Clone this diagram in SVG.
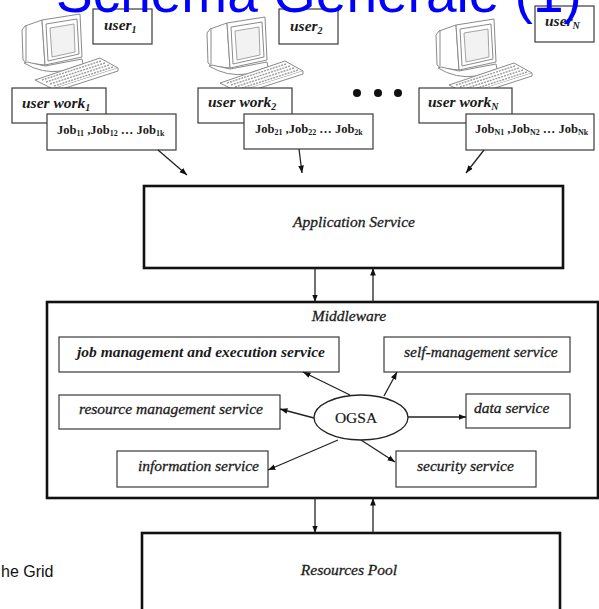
<svg xmlns="http://www.w3.org/2000/svg" xmlns:xlink="http://www.w3.org/1999/xlink" width="599" height="609" viewBox="0 0 599 609">
<style>
.box{fill:#fff;stroke:#3a3a3a;stroke-width:1.2}
.big{fill:#fff;stroke:#111;stroke-width:2.6}
.t{font-family:"Liberation Serif","Times New Roman",serif;font-style:italic;font-size:15.5px;fill:#1a1a1a;stroke:#1a1a1a;stroke-width:0.3}
.tb{font-family:"Liberation Serif","Times New Roman",serif;font-style:italic;font-weight:bold;font-size:15.5px;fill:#1a1a1a}
.job{font-family:"Liberation Serif","Times New Roman",serif;font-weight:bold;font-size:12.5px;fill:#1a1a1a}
.r{font-family:"Liberation Serif","Times New Roman",serif;font-size:15.5px;fill:#1a1a1a;stroke:#1a1a1a;stroke-width:0.2}
.c{fill:none;stroke:#222;stroke-width:1.3;marker-end:url(#ah)}
.pcl{fill:#fff;stroke:#8a8a8a;stroke-width:1}
.pcs{fill:#f2f2f2;stroke:#9a9a9a;stroke-width:0.9}
.key{fill:none;stroke:#9a9a9a;stroke-width:1.4;stroke-dasharray:2 1}
</style>
<defs>
<marker id="ah" viewBox="0 0 10 10" refX="10" refY="5" markerWidth="7.5" markerHeight="7.5" orient="auto" markerUnits="userSpaceOnUse">
<path d="M0,1.2 L10,5 L0,8.8 z" fill="#111"/>
</marker>
<g id="pc">
<path class="pcl" d="M30,7 L13,13 L10,17 L11,47 L15,50 L33,52 z"/>
<path class="pcl" d="M14,12 L14,48" />
<path class="pcl" d="M12,50 Q30,61 50,58 L71,51 L70,46 L33,53 L15,49 z"/>
<path class="pcl" d="M30,7 L68,1 L70,44 L33,52 z"/>
<path class="pcl" d="M34,11 L65,6 L67,41 L36,48 z"/>
<path class="pcs" d="M38,15 L62,11 L63,39 L40,44 z"/>
<path class="pcl" d="M23,67 L88,45 L106,55 L41,76 z"/>
<path class="pcl" d="M41,76 L41,79 L106,58 L106,55"/>
<path class="key" d="M30,67 L89,48 M34,69 L93,50 M38,71 L97,52 M42,73 L101,54"/>
</g>
</defs>

<g id="pc1"><use xlink:href="#pc" href="#pc" x="12" y="13"/></g>
<g id="pc2"><use xlink:href="#pc" href="#pc" x="197" y="16"/></g>
<g id="pcN"><use xlink:href="#pc" href="#pc" x="426" y="18"/></g>

<g id="dots" fill="#111">
<circle cx="357" cy="93" r="4"/>
<circle cx="378" cy="93" r="4"/>
<circle cx="398" cy="93" r="4"/>
</g>

<g id="user1">
<rect class="box" x="93" y="9" width="59" height="35"/>
<text class="tb" x="104" y="30">user<tspan font-size="10" dy="3">1</tspan></text>
</g>
<g id="user2">
<rect class="box" x="279" y="9" width="59" height="35"/>
<text class="tb" x="290" y="31">user<tspan font-size="10" dy="3">2</tspan></text>
</g>
<g id="userN">
<rect class="box" x="535" y="6" width="59" height="36"/>
<text class="tb" x="545" y="26">user<tspan font-size="10" dy="3">N</tspan></text>
</g>

<g id="work1">
<rect class="box" x="12" y="88" width="94" height="35"/>
<text class="tb" x="22" y="108">user work<tspan font-size="10" dy="3">1</tspan></text>
</g>
<g id="work2">
<rect class="box" x="198" y="88" width="94" height="35"/>
<text class="tb" x="208" y="107">user work<tspan font-size="10" dy="3">2</tspan></text>
</g>
<g id="workN">
<rect class="box" x="419" y="88" width="93" height="35"/>
<text class="tb" x="428" y="107">user work<tspan font-size="10" dy="3">N</tspan></text>
</g>

<g id="jobs1">
<rect class="box" x="47" y="114" width="129" height="36"/>
<text class="job" x="57" y="134">Job<tspan font-size="8" dy="2">11</tspan><tspan dy="-2"> ,Job</tspan><tspan font-size="8" dy="2">12</tspan><tspan dy="-2"> … Job</tspan><tspan font-size="8" dy="2">1k</tspan></text>
</g>
<g id="jobs2">
<rect class="box" x="244" y="114" width="129" height="35"/>
<text class="job" x="255" y="133">Job<tspan font-size="8" dy="2">21</tspan><tspan dy="-2"> ,Job</tspan><tspan font-size="8" dy="2">22</tspan><tspan dy="-2"> … Job</tspan><tspan font-size="8" dy="2">2k</tspan></text>
</g>
<g id="jobsN">
<rect class="box" x="466" y="114" width="128" height="36"/>
<text class="job" x="475" y="133">Job<tspan font-size="8" dy="2">N1</tspan><tspan dy="-2"> ,Job</tspan><tspan font-size="8" dy="2">N2</tspan><tspan dy="-2"> … Job</tspan><tspan font-size="8" dy="2">Nk</tspan></text>
</g>

<g id="app">
<rect class="big" x="144" y="186" width="419" height="82"/>
<text class="t" x="354" y="227" text-anchor="middle">Application Service</text>
</g>

<g id="middleware">
<rect class="big" x="47" y="302" width="551" height="196"/>
<text class="t" x="349" y="321" text-anchor="middle">Middleware</text>
</g>
<g id="jobmgmt">
<rect class="box" x="59" y="337" width="280" height="35"/>
<text class="tb" x="77" y="357">job management and execution service</text>
</g>
<g id="selfmgmt">
<rect class="box" x="384" y="337" width="186" height="35"/>
<text class="t" x="404" y="357">self-management service</text>
</g>
<g id="resmgmt">
<rect class="box" x="59" y="395" width="221" height="34"/>
<text class="t" x="79" y="414">resource management service</text>
</g>
<g id="ogsa">
<ellipse cx="361" cy="417.5" rx="47" ry="22.5" fill="#fff" stroke="#222" stroke-width="1.3"/>
<text class="r" x="356" y="423" text-anchor="middle">OGSA</text>
</g>
<g id="data">
<rect class="box" x="466" y="394" width="104" height="34"/>
<text class="t" x="474" y="413">data service</text>
</g>
<g id="info">
<rect class="box" x="117" y="451" width="151" height="36"/>
<text class="t" x="138" y="471">information service</text>
</g>
<g id="security">
<rect class="box" x="396" y="451" width="140" height="36"/>
<text class="t" x="417" y="471">security service</text>
</g>

<g id="pool">
<rect class="big" x="142" y="533" width="418" height="90"/>
<text class="t" x="349" y="575" text-anchor="middle">Resources Pool</text>
</g>

<g id="connectors">
<line class="c" x1="158" y1="150" x2="187" y2="175"/>
<line class="c" x1="299" y1="149" x2="302" y2="173"/>
<line class="c" x1="484" y1="150" x2="466" y2="173"/>
<line class="c" x1="315" y1="268" x2="315" y2="302"/>
<line class="c" x1="373" y1="302" x2="373" y2="268"/>
<line class="c" x1="350" y1="395" x2="303" y2="372"/>
<line class="c" x1="384" y1="396" x2="397" y2="372"/>
<line class="c" x1="314" y1="418" x2="280" y2="409"/>
<line class="c" x1="408" y1="417" x2="466" y2="417"/>
<line class="c" x1="338" y1="440" x2="268" y2="470"/>
<line class="c" x1="361" y1="440" x2="395" y2="462"/>
<line class="c" x1="315" y1="498" x2="315" y2="533"/>
<line class="c" x1="373" y1="533" x2="373" y2="498"/>
</g>

<text x="1" y="577" font-family="'Liberation Sans',Arial,sans-serif" font-size="16" fill="#111">he Grid</text>
<text id="title" x="56" y="12" font-family="'Liberation Sans',Arial,sans-serif" font-size="55" fill="#0000ff">Schema Generale (1)</text>
</svg>
